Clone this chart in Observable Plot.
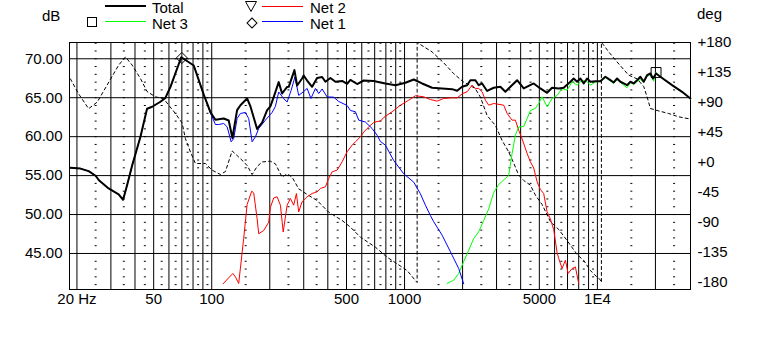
<!DOCTYPE html>
<html><head><meta charset="utf-8">
<script src="https://cdn.jsdelivr.net/npm/d3@7"></script>
<script src="https://cdn.jsdelivr.net/npm/@observablehq/plot@0.6"></script>
<style>
body{margin:0;background:#fff;}
#wrap{position:relative;width:759px;height:341px;background:#fff;font-family:'Liberation Sans',Arial,sans-serif;font-size:15px;line-height:15px;color:#000;overflow:hidden;}
#wrap svg{position:absolute;left:0;top:0;}
.lab{position:absolute;white-space:nowrap;z-index:2;}
.sw{position:absolute;z-index:2;}
</style></head><body><div id="wrap"></div>
<script>
// ---- data (frequency Hz, level dB) ----
const total = [[18.5,56.0],[20.85,55.9],[23.0,55.57],[25.0,54.98],[26.0,54.4],[29.2,53.35],[32.9,52.58],[34.7,51.9],[36.4,53.77],[38.7,56.34],[42.7,60.0],[46.2,63.58],[49.1,63.84],[54.2,64.48],[57.5,64.97],[61.1,66.4],[69.5,70.2],[80.7,69.14],[90.9,65.4],[98.5,63.14],[104.5,62.17],[115.4,62.33],[122.5,62.08],[128,59.83],[135.4,63.4],[140.9,64.04],[152.6,64.9],[158.8,63.88],[171.9,60.99],[182.5,61.8],[193.8,63.4],[201.5,63.88],[209.6,65.07],[222.5,67.0],[231.7,65.54],[246,66.38],[250.8,66.4],[268.5,68.54],[277.2,66.57],[294.2,67.47],[299.9,67.86],[312.4,67.21],[331.6,66.4],[352,67.53],[373.8,67.66],[388.7,67.05],[412.6,67.53],[438,67.05],[474.6,67.15],[503.7,66.79],[524,67.28],[567.5,66.76],[614.1,67.21],[691.8,67.15],[749.5,66.96],[795.6,66.83],[896.7,66.61],[1010,66.92],[1116,67.34],[1233,66.83],[1390,66.28],[1566,66.19],[1765,66.1],[1873,65.89],[1988,66.4],[2110,66.61],[2195,67.25],[2330,67.25],[2424,66.61],[2525,66.83],[2680,65.87],[2900,66.28],[3141,66.4],[3334,65.76],[3539,66.4],[3834,67.25],[4149,66.19],[4674,66.83],[5062,66.19],[5485,65.63],[5822,66.28],[6300,66.19],[6688,66.28],[7244,67.05],[7535,67.47],[7848,67.05],[8164,67.47],[8492,66.83],[8844,67.47],[9200,67.05],[9766,67.12],[10366,67.12],[11003,67.69],[11679,67.25],[12148,66.96],[12653,67.47],[13161,67.05],[13691,66.83],[14256,66.61],[14829,67.05],[15424,66.83],[16066,67.25],[16711,67.69],[17383,67.05],[18102,67.89],[18828,68.11],[19444,67.47],[20151,68.11],[21214,67.69],[24401,66.61],[27492,65.76],[30360,64.9]];

const net1 = [[18.5,56.0],[20.85,55.9],[23.0,55.57],[25.0,54.98],[26.0,54.4],[29.2,53.35],[32.9,52.58],[34.7,51.9],[36.4,53.77],[38.7,56.34],[42.7,60.0],[46.2,63.58],[49.1,63.84],[54.2,64.48],[57.5,64.97],[61.1,66.4],[69.5,70.2],[80.7,69.14],[90.9,65.4],[98.5,63.0],[100.5,62.55],[104.5,61.56],[108.7,61.56],[115.4,61.69],[120.2,61.27],[126.1,59.34],[130.1,59.77],[135.4,62.33],[140.9,62.98],[149.5,63.1],[155.5,62.33],[162.0,59.34],[168.5,59.98],[175.3,61.05],[189.9,62.12],[205.6,63.1],[213.9,63.88],[222.5,65.74],[236.2,64.88],[246,64.45],[258,65.93],[270,67.66],[282.5,65.29],[299.9,65.8],[312.4,66.19],[326.9,64.9],[345,66.19],[358.8,65.54],[373.8,66.12],[396.7,65.1],[429.2,65.07],[455.6,64.52],[503.7,64.0],[524,63.36],[556.1,63.2],[578.5,62.12],[626.7,61.88],[678.8,61.05],[720.6,60.19],[749.5,59.38],[795.6,58.91],[878.6,56.94],[989.9,55.23],[1116,54.16],[1208,52.67],[1283,51.2],[1361,49.88],[1417,49.07],[1566,47.35],[1765,44.78],[1909,43.07],[2026,41.11]];

const net2 = [[114.6,41.11],[122.5,41.88],[128.8,42.43],[132.7,42.0],[138.0,41.15],[146.5,46.93],[152.6,51.29],[161.2,53.0],[165.1,52.77],[171.9,49.49],[175.3,47.53],[186.0,47.95],[197.5,49.02],[201.5,50.91],[209.6,52.13],[218.3,52.28],[227.1,51.2],[234.8,47.76],[246,51.2],[255.9,52.06],[266.2,51.2],[274.9,52.7],[282.5,50.33],[294.2,51.64],[312.4,52.28],[331.6,52.7],[352,52.92],[366.2,53.35],[388.7,53.56],[404.3,54.63],[421.1,55.49],[447,55.7],[474.6,56.77],[503.7,58.06],[534.6,58.91],[556.1,59.34],[590.3,59.98],[614.1,60.58],[639.5,61.05],[665.2,61.44],[691.8,61.82],[720.6,61.95],[749.5,61.99],[779.6,62.46],[862,63.2],[951.7,64.04],[1051,64.68],[1138,65.25],[1257,65.12],[1361,64.77],[1475,64.56],[1596,64.9],[1765,64.99],[1873,64.97],[2002,65.54],[2110,65.76],[2240,66.61],[2330,66.19],[2424,66.19],[2525,65.76],[2626,64.68],[2732,64.04],[2900,64.26],[3268,64.04],[3403,62.98],[3612,62.12],[3757,62.12],[3908,60.83],[4071,59.7],[4321,57.84],[4494,56.77],[4674,55.98],[4867,54.21],[5062,53.22],[5266,52.7],[5485,50.35],[5705,49.43],[5934,48.08],[6180,45.13],[6300,44.36],[6561,43.07],[6825,44.14],[7049,42.43],[7392,43.07],[7691,43.27],[8000,41.15]];

const net3 = [[1662,41.15],[1799,41.57],[1909,42.43],[2026,43.97],[2151,45.42],[2284,46.93],[2424,47.79],[2573,49.24],[2732,50.74],[2900,52.83],[3078,53.86],[3334,54.63],[3468,55.05],[3612,57.84],[3757,60.19],[3908,61.24],[4149,61.31],[4321,62.33],[4494,63.36],[4770,63.62],[4961,64.26],[5166,65.12],[5485,63.84],[5822,64.9],[6180,65.29],[6561,66.19],[6965,65.97],[7392,67.05],[7848,66.61],[8331,67.25],[8844,67.05],[9200,66.61],[9766,67.02],[10366,67.09],[11003,67.6],[11679,67.15],[12148,66.83],[12653,67.34],[13161,66.96],[14256,66.28],[14829,66.96],[15424,66.7],[16066,67.09],[16711,67.34],[17383,66.96],[18102,67.73],[18828,67.98],[19583,67.12],[20151,68.24],[21214,67.66],[24401,66.57],[27492,65.71],[30360,64.84]];

// phase of the total response (frequency Hz, degrees)
const phase = [[18.5,125.5],[20.4,103],[23.0,80.7],[25.5,90.7],[29.8,124.5],[32.9,146],[35.7,158.3],[38.7,146],[42.7,126],[46.2,106.5],[51.1,98.5],[56.4,95.7],[59.8,86],[64.8,73.5],[70.2,59.3],[73.0,36],[77.5,16],[82.3,-1.5],[92.8,-1.5],[100.5,-11.5],[110.9,-18],[117.8,-13.5],[127.6,17.3],[135.4,10.5],[146.5,1],[152.6,-4.5],[162,-18],[171.9,-6],[182.5,0.8],[201.5,2],[213.9,-2],[231.7,-22],[246,-17],[261.2,-22],[282.5,-39.5],[318.4,-49.5],[352,-57],[404.3,-74.5],[474.6,-87],[524,-97],[590.3,-112],[706,-127],[811.9,-142],[915.1,-152],[1031,-162],[1138,-177],[1162,-180],[1162,180],[1184,178.5],[1390,165.8],[1596,149.5],[1799,133.2],[2026,120.5],[2195,115.5],[2330,110.5],[2474,98],[2680,70.5],[2960,55.5],[3206,33],[3468,15.8],[3681,-0.8],[3908,-19],[4149,-27],[4494,-34],[4770,-49],[5166,-63],[5705,-88.5],[6300,-100.5],[6965,-117],[7848,-138],[8492,-147],[9200,-162],[9966,-172],[10366,-176],[10490,-180],[10490,180],[10783,176],[11444,166],[12653,150.8],[13691,139.5],[14531,131],[16066,125.5],[17383,114],[18102,98.5],[18828,81],[20395,78],[23427,73.5],[26401,68.5],[29744,65.7]];

// marker points
const markerNet1 = [[70,70.1]];
const markerNet3 = [[20151,68.24]];

// grid and tick values
const majorFreqs = [20,30,40,50,60,70,80,90,100,200,300,400,500,600,700,800,900,1000,2000,3000,4000,5000,6000,7000,8000,9000,10000,20000];
const minorFreqs = [25,35,45,55,65,75,85,95,150,250,350,450,550,650,750,850,950,1500,2500,3500,4500,5500,6500,7500,8500,9500,15000,25000];
const dotLevels = [41,42,43,44,45,46,47,48,49,50,51,52,53,54,55,56,57,58,59,60,61,62,63,64,65,66,67,68,69,70,71,72];
const dbTicks = [70,65,60,55,50,45];
const phaseTicks = [180,135,90,45,0,-45,-90,-135,-180];
const xTicks = [20,50,100,500,1000,5000,10000];
const xTickLabels = ["20 Hz","50","100","500","1000","5000","1E4"];

// ---- scales ----
const X_DOMAIN = [18.3, 30400];
const Y_DOMAIN = [40.375, 72.09];
const PHASE_DOMAIN = [-190.5, 180];
const phaseToY = p => Y_DOMAIN[0] + (p - PHASE_DOMAIN[0]) * (Y_DOMAIN[1] - Y_DOMAIN[0]) / (PHASE_DOMAIN[1] - PHASE_DOMAIN[0]);
const rows = arr => arr.map(([f, v]) => ({f, v}));
const dashSym = {draw(ctx) { ctx.moveTo(-1, 0); ctx.lineTo(1, 0); }};
const minorDots = minorFreqs.flatMap(f => dotLevels.map(v => ({f, v})));
const FONT = "'Liberation Sans', Arial, sans-serif";

const chart = Plot.plot({
  width: 759, height: 341,
  marginLeft: 69, marginRight: 69, marginTop: 42, marginBottom: 52,
  x: {type: "log", domain: X_DOMAIN, axis: null},
  y: {domain: Y_DOMAIN, axis: null},
  style: {background: "transparent", color: "black", fontFamily: FONT, fontSize: "15px", overflow: "visible"},
  marks: [
    Plot.dot(minorDots, {x: "f", y: "v", symbol: dashSym, r: 1, stroke: "black", fill: "none", strokeWidth: 1}),
    Plot.ruleX(majorFreqs, {stroke: "black", strokeWidth: 1}),
    Plot.ruleY(dbTicks, {stroke: "black", strokeWidth: 1}),
    Plot.frame({stroke: "black", strokeWidth: 1}),
    Plot.line(rows(phase), {x: "f", y: d => phaseToY(d.v), stroke: "black", strokeWidth: 1, strokeDasharray: "3,3"}),
    Plot.line(rows(net2), {x: "f", y: "v", stroke: "#ff0000", strokeWidth: 1}),
    Plot.line(rows(net3), {x: "f", y: "v", stroke: "#00ff00", strokeWidth: 1}),
    Plot.line(rows(net1), {x: "f", y: "v", stroke: "#0000ff", strokeWidth: 1}),
    Plot.line(rows(total), {x: "f", y: "v", stroke: "black", strokeWidth: 2}),
    Plot.dot(rows(markerNet1), {x: "f", y: "v", symbol: "diamond2", r: 5, stroke: "black", fill: "none", strokeWidth: 1}),
    Plot.dot(rows(markerNet3), {x: "f", y: "v", symbol: "square2", r: 6.3, stroke: "black", fill: "none", strokeWidth: 1}),
    Plot.text(dbTicks, {y: d => d, frameAnchor: "left", dx: -7, textAnchor: "end", text: d => d.toFixed(2), fontSize: 15, fontFamily: FONT, fill: "black"}),
    Plot.text(phaseTicks, {y: d => phaseToY(d), frameAnchor: "right", dx: 7, textAnchor: "start", text: d => (d >= 0 ? "+" : "") + d, fontSize: 15, fontFamily: FONT, fill: "black"}),
    Plot.text(xTicks, {x: d => d, frameAnchor: "bottom", dy: 4, lineAnchor: "top", text: (d, i) => xTickLabels[i], fontSize: 15, fontFamily: FONT, fill: "black"})
  ]
});

const wrap = document.getElementById("wrap");
wrap.appendChild(chart);

function add(html) { wrap.insertAdjacentHTML("beforeend", html); }
const triSvg = "data:image/svg+xml," + encodeURIComponent("<svg xmlns='http://www.w3.org/2000/svg' width='12' height='11'><path d='M0.5 0.5 H11.5 L6 10.5 Z' fill='none' stroke='black' stroke-width='1'/></svg>");
// axis titles
add('<div class="lab" style="left:42px;top:8px">dB</div>');
add('<div class="lab" style="left:697px;top:6px">deg</div>');
// legend
add('<div class="sw" style="left:105px;top:5px;width:41px;height:2px;background:#000"></div>');
add('<div class="lab" style="left:152px;top:0px">Total</div>');
add('<div class="sw" style="left:87px;top:17px;width:8px;height:8px;border:1px solid #000"></div>');
add('<div class="sw" style="left:105px;top:21px;width:41px;height:1px;background:#00ff00"></div>');
add('<div class="lab" style="left:152px;top:15.6px">Net 3</div>');
add('<div class="sw" style="left:245px;top:1px;width:12px;height:11px;background:url(&quot;' + triSvg + '&quot;) no-repeat"></div>');
add('<div class="sw" style="left:262px;top:6px;width:41px;height:1px;background:#ff0000"></div>');
add('<div class="lab" style="left:310px;top:0px">Net 2</div>');
add('<div class="sw" style="left:247.5px;top:19.3px;width:6px;height:6px;border:1px solid #000;transform:rotate(45deg)"></div>');
add('<div class="sw" style="left:262px;top:21px;width:41px;height:1px;background:#0000ff"></div>');
add('<div class="lab" style="left:310px;top:15.6px">Net 1</div>');
</script></body></html>
